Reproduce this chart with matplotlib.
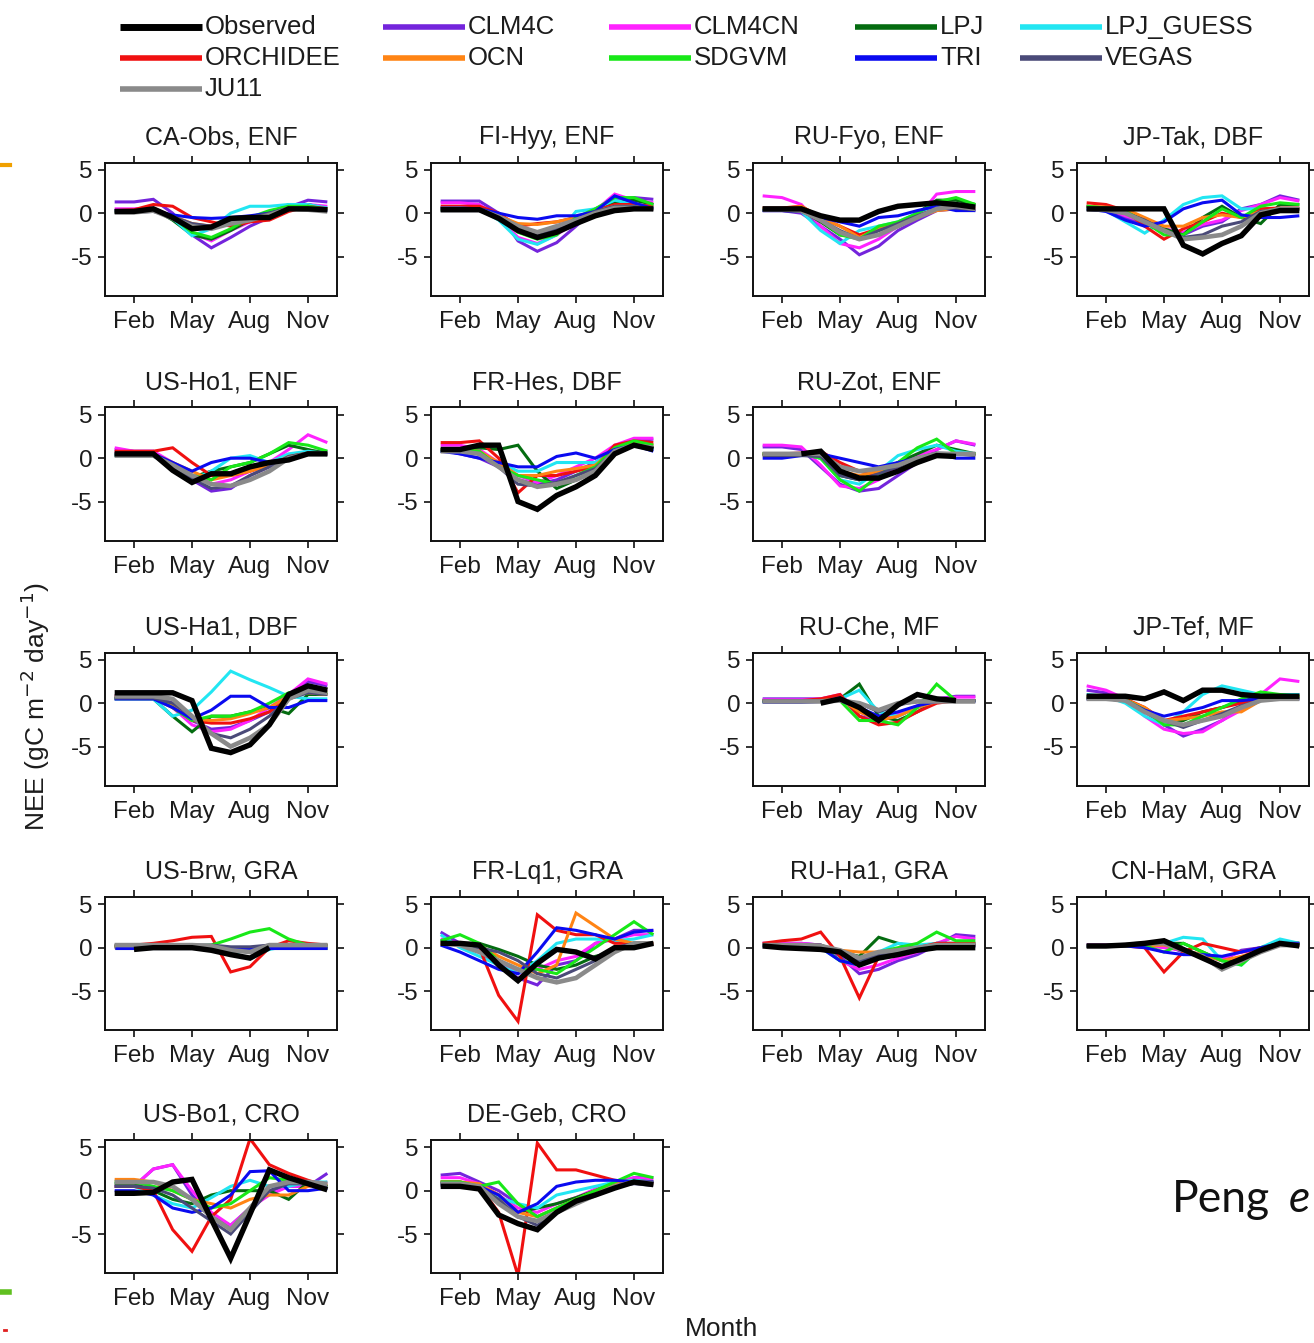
import numpy as np
import matplotlib
matplotlib.use("Agg")
import matplotlib.pyplot as plt
from matplotlib.lines import Line2D

nan = np.nan

MONTHS = list(range(1, 13))
MONTH_TICKS = [2, 5, 8, 11]
MONTH_LABELS = ["Feb", "May", "Aug", "Nov"]
Y_TICKS = [-5, 0, 5]

SERIES = ["Observed", "CLM4C", "CLM4CN", "LPJ", "LPJ_GUESS", "ORCHIDEE",
          "OCN", "SDGVM", "TRI", "VEGAS", "JU11"]

# Monthly NEE per site (gC m-2 day-1); rows follow SERIES order
CA_OBS = [
    [0.2, 0.2, 0.5, -0.5, -1.8, -1.6, -0.6, -0.5, -0.5, 0.5, 0.5, 0.4],
    [1.3, 1.3, 1.6, 0.0, -2.5, -4.0, -2.8, -1.5, -0.5, 0.7, 1.5, 1.3],
    [0.5, 0.5, 0.6, -0.4, -2.3, -3.2, -2.0, -1.0, -0.3, 0.8, 1.0, 0.8],
    [0.3, 0.3, 0.5, -0.8, -2.5, -3.0, -2.0, -0.8, 0.0, 1.0, 1.0, 0.5],
    [0.3, 0.3, 0.4, -0.6, -2.6, -1.8, 0.0, 0.8, 0.8, 1.0, 1.0, 0.6],
    [0.3, 0.4, 1.0, 0.8, -0.5, -1.0, -1.5, -1.0, -0.8, 0.2, 0.8, 0.5],
    [0.2, 0.2, 0.3, -0.3, -1.2, -1.5, -1.2, -0.8, -0.3, 0.5, 0.6, 0.4],
    [0.2, 0.2, 0.3, -0.5, -2.2, -2.8, -1.8, -0.5, 0.3, 0.8, 0.8, 0.4],
    [0.3, 0.3, 0.3, -0.2, -0.5, -0.6, -0.5, -0.3, 0.0, 0.5, 0.5, 0.3],
    [0.1, 0.1, 0.2, -0.4, -1.2, -1.5, -1.0, -0.5, 0.0, 0.6, 0.6, 0.3],
    [0.1, 0.1, 0.3, -0.6, -1.5, -1.8, -1.2, -0.8, -0.2, 0.5, 0.4, 0.2],
]

FI_HYY = [
    [0.4, 0.4, 0.4, -0.6, -2.0, -2.8, -2.2, -1.2, -0.3, 0.3, 0.5, 0.5],
    [1.4, 1.4, 1.4, 0.0, -3.2, -4.4, -3.4, -1.5, 0.5, 1.5, 1.8, 1.6],
    [1.2, 1.2, 1.0, -0.5, -2.8, -3.5, -2.5, -1.0, 0.3, 2.2, 1.5, 1.2],
    [0.5, 0.5, 0.5, -0.5, -2.0, -2.8, -2.0, -0.8, 0.3, 1.2, 1.5, 1.0],
    [0.6, 0.6, 0.5, -0.8, -3.0, -3.6, -2.5, 0.2, 0.5, 1.5, 1.0, 0.8],
    [0.8, 0.8, 0.8, 0.0, -1.5, -1.2, -1.0, -0.5, 0.3, 1.0, 1.0, 0.8],
    [0.5, 0.5, 0.5, -0.3, -1.2, -1.3, -1.0, -0.5, 0.2, 0.8, 0.8, 0.5],
    [0.4, 0.4, 0.4, -0.6, -2.2, -3.0, -2.5, -0.5, 0.5, 1.8, 1.8, 1.0],
    [0.6, 0.6, 0.5, 0.0, -0.5, -0.7, -0.3, -0.3, 0.2, 2.0, 1.2, 0.5],
    [0.3, 0.3, 0.3, -0.5, -2.0, -2.5, -1.8, -0.8, 0.2, 0.8, 0.8, 0.4],
    [0.5, 0.5, 0.4, -0.4, -1.5, -2.2, -1.5, -0.8, 0.0, 0.6, 0.6, 0.5],
]

RU_FYO = [
    [0.5, 0.5, 0.5, -0.3, -0.8, -0.8, 0.2, 0.8, 1.0, 1.2, 1.0, 0.7],
    [0.3, 0.3, 0.0, -1.5, -3.0, -4.8, -3.8, -2.0, -0.8, 0.3, 0.5, 0.3],
    [2.0, 1.8, 1.0, -1.5, -3.5, -4.0, -3.0, -1.5, -0.5, 2.2, 2.5, 2.5],
    [0.5, 0.5, 0.3, -1.0, -2.5, -2.8, -2.0, -1.2, 0.0, 1.5, 1.5, 1.0],
    [0.4, 0.4, 0.2, -2.0, -3.5, -2.0, -1.5, -1.0, 0.0, 1.0, 1.0, 0.8],
    [0.6, 0.6, 0.8, -0.5, -1.5, -2.5, -1.8, -1.2, -0.3, 0.5, 0.8, 0.6],
    [0.5, 0.5, 0.8, -0.5, -1.5, -2.8, -1.8, -1.2, -0.5, 0.3, 0.5, 0.5],
    [0.4, 0.4, 0.3, -0.8, -2.5, -3.0, -1.5, -1.0, 0.0, 1.3, 1.8, 1.0],
    [0.3, 0.3, 0.2, -0.5, -1.0, -1.5, -0.5, -0.3, 0.3, 0.8, 0.3, 0.3],
    [0.3, 0.3, 0.2, -0.8, -2.0, -3.0, -2.0, -1.2, -0.3, 0.5, 0.6, 0.4],
    [0.5, 0.5, 0.3, -0.8, -2.2, -3.0, -2.5, -1.5, -0.5, 0.5, 0.8, 0.5],
]

JP_TAK = [
    [0.5, 0.5, 0.5, 0.5, 0.5, -3.7, -4.7, -3.5, -2.6, -0.2, 0.3, 0.3],
    [0.8, 0.5, -0.5, -1.2, -2.0, -2.5, -1.5, -1.0, 0.5, 1.0, 2.0, 1.5],
    [0.8, 0.6, -0.3, -1.0, -1.8, -2.2, -1.3, -0.8, 0.3, 1.0, 1.8, 1.4],
    [0.8, 0.6, 0.2, -0.8, -1.8, -2.5, -0.5, 0.8, -0.5, -1.2, 1.0, 1.0],
    [0.5, 0.3, -1.0, -2.3, -0.8, 1.0, 1.8, 2.0, 0.5, 0.5, 0.5, 0.5],
    [1.2, 1.0, 0.3, -1.5, -3.0, -1.8, -1.0, 0.0, -0.5, 0.5, 0.6, 0.6],
    [0.8, 0.7, 0.5, -0.5, -1.5, -1.5, -0.5, -0.2, -0.5, 0.2, 0.5, 0.5],
    [0.8, 0.6, 0.2, -1.0, -2.5, -2.5, -1.0, 0.5, -0.5, 0.8, 1.2, 1.0],
    [0.5, 0.2, -0.8, -1.5, -1.0, 0.5, 1.2, 1.5, -0.2, -0.5, -0.5, -0.3],
    [0.4, 0.3, 0.0, -0.8, -2.0, -2.8, -2.5, -1.5, -1.0, 0.2, 0.5, 0.5],
    [0.5, 0.4, 0.0, -1.0, -2.0, -3.0, -2.8, -2.5, -1.5, 0.0, 0.5, 0.5],
]

US_HO1 = [
    [0.5, 0.5, 0.5, -1.4, -2.8, -1.8, -1.8, -1.0, -0.5, -0.2, 0.5, 0.5],
    [1.0, 0.8, 0.8, -1.0, -2.5, -3.8, -3.5, -2.0, -1.0, 0.3, 0.8, 0.8],
    [1.2, 0.8, 0.8, -0.5, -2.0, -3.0, -2.5, -1.5, -0.5, 1.0, 2.7, 1.8],
    [0.5, 0.5, 0.5, -0.8, -2.2, -1.5, -1.0, -0.5, 0.5, 1.5, 1.0, 0.5],
    [0.3, 0.3, 0.3, -1.0, -2.5, -1.5, 0.0, 0.3, -0.5, 0.5, 0.8, 0.5],
    [0.8, 0.8, 0.8, 1.2, -0.5, -2.0, -2.0, -1.5, -0.8, 0.0, 0.5, 0.5],
    [0.5, 0.5, 0.5, -0.5, -1.5, -2.5, -2.0, -1.5, -0.8, 0.2, 0.6, 0.5],
    [0.4, 0.4, 0.4, -0.8, -2.0, -2.5, -1.0, -0.5, 0.5, 1.8, 1.5, 0.8],
    [0.5, 0.5, 0.5, -0.5, -1.5, -0.5, 0.0, 0.0, -0.5, 0.0, 0.5, 0.5],
    [0.3, 0.3, 0.3, -1.0, -2.3, -3.5, -3.2, -2.0, -1.0, 0.2, 0.6, 0.4],
    [0.3, 0.3, 0.3, -0.8, -2.0, -3.0, -3.2, -2.5, -1.5, 0.0, 0.5, 0.5],
]

FR_HES = [
    [1.0, 1.0, 1.5, 1.5, -5.0, -5.9, -4.3, -3.3, -2.0, 0.5, 1.5, 1.0],
    [1.0, 0.5, 0.0, -1.0, -2.5, -3.0, -2.5, -1.5, -0.5, 1.0, 2.0, 2.2],
    [1.5, 1.5, 1.0, -0.5, -2.0, -2.8, -2.0, -1.0, 0.0, 1.5, 2.3, 2.3],
    [1.0, 1.0, 1.2, 1.0, 1.5, -1.5, -3.5, -2.5, -1.5, 1.0, 1.5, 1.2],
    [0.8, 0.8, 0.5, -0.5, -1.5, -1.5, -0.5, -0.5, -0.5, 1.0, 1.5, 1.0],
    [1.8, 1.8, 2.0, 0.0, -4.0, -2.0, -2.0, -1.5, -1.0, 1.5, 2.0, 1.8],
    [1.0, 1.0, 0.8, -0.5, -2.0, -2.0, -1.5, -1.2, -0.8, 1.0, 1.8, 1.5],
    [1.0, 1.0, 0.8, -1.0, -2.0, -2.5, -3.0, -2.0, -1.0, 1.2, 2.0, 1.5],
    [0.8, 0.5, 0.0, -0.5, -1.0, -1.0, 0.2, 0.6, 0.0, 1.0, 1.5, 0.8],
    [0.8, 0.8, 0.5, -1.0, -3.0, -3.2, -2.8, -2.0, -1.2, 0.8, 1.5, 1.2],
    [0.8, 0.8, 0.5, -1.0, -2.5, -3.3, -3.0, -2.5, -1.5, 0.8, 1.5, 1.2],
]

RU_ZOT = [
    [nan, nan, 0.5, 0.8, -1.5, -2.3, -2.3, -1.5, -0.5, 0.3, 0.2, nan],
    [1.3, 1.3, 1.0, -1.0, -3.0, -3.8, -3.5, -2.0, -0.5, 1.0, 2.0, 1.5],
    [1.5, 1.5, 1.3, -0.8, -3.2, -3.5, -2.5, -1.0, 0.3, 1.0, 2.0, 1.6],
    [0.5, 0.5, 0.5, 0.0, -2.0, -2.5, -1.5, -0.5, 0.5, 1.5, 1.0, 0.5],
    [0.5, 0.5, 0.5, 0.0, -2.5, -3.0, -1.5, 0.3, 1.0, 1.5, 0.8, 0.5],
    [0.5, 0.5, 0.6, 0.8, -0.5, -1.5, -2.0, -1.5, -0.5, 0.5, 0.5, 0.5],
    [0.4, 0.4, 0.4, 0.3, -1.5, -2.0, -1.5, -0.8, 0.0, 0.5, 0.5, 0.4],
    [0.5, 0.5, 0.5, 0.0, -2.5, -3.8, -2.0, -0.5, 1.2, 2.2, 0.5, 0.5],
    [0.0, 0.0, 0.3, 0.5, 0.0, -0.5, -1.0, -0.5, 0.0, 0.5, 0.0, 0.0],
    [0.3, 0.3, 0.3, 0.2, -2.0, -2.5, -1.8, -1.0, 0.0, 0.6, 0.5, 0.3],
    [0.5, 0.5, 0.5, 0.5, -1.0, -1.5, -1.2, -0.8, 0.0, 0.5, 0.5, 0.5],
]

US_HA1 = [
    [1.2, 1.2, 1.2, 1.2, 0.3, -5.2, -5.7, -4.8, -2.5, 1.0, 2.0, 1.5],
    [0.8, 0.8, 0.8, 0.0, -2.0, -3.0, -2.8, -2.0, -1.0, 1.0, 2.5, 2.0],
    [0.5, 0.5, 0.5, -0.5, -2.5, -3.3, -3.0, -2.0, -0.5, 1.0, 2.8, 2.2],
    [0.5, 0.5, 0.5, -1.5, -3.3, -1.5, -1.5, -1.0, -0.5, -1.2, 1.0, 1.0],
    [0.5, 0.5, 0.5, -1.5, -0.8, 1.3, 3.7, 2.7, 1.8, 0.8, 0.5, 0.5],
    [0.8, 0.8, 0.8, -0.5, -2.0, -2.3, -2.3, -1.8, -1.0, 0.5, 1.5, 1.3],
    [0.6, 0.6, 0.6, -0.3, -1.8, -2.0, -1.8, -1.2, -0.5, 0.8, 1.2, 1.0],
    [0.6, 0.6, 0.6, -0.5, -2.0, -1.5, -1.5, -1.0, 0.0, 1.2, 1.5, 1.2],
    [0.5, 0.5, 0.5, -0.5, -1.8, -0.8, 0.8, 0.8, -0.5, -0.5, 0.3, 0.3],
    [0.6, 0.6, 0.6, 0.0, -1.5, -3.5, -4.0, -3.0, -1.5, 0.5, 1.2, 1.0],
    [0.8, 0.8, 0.8, 0.5, -1.5, -3.5, -5.0, -4.0, -2.5, 0.5, 1.5, 1.2],
]

RU_CHE = [
    [nan, nan, nan, 0.0, 0.5, -0.5, -2.0, -0.2, 1.0, 0.5, 0.3, nan],
    [0.5, 0.5, 0.5, 0.5, 0.8, -1.5, -2.0, -1.5, -0.5, 0.5, 0.8, 0.8],
    [0.4, 0.4, 0.4, 0.5, 1.0, -1.0, -2.0, -1.2, -0.3, 0.5, 0.7, 0.7],
    [0.2, 0.2, 0.2, 0.3, 0.5, 2.2, -1.5, -2.0, -1.0, 0.3, 0.3, 0.3],
    [0.2, 0.2, 0.2, 0.3, 0.5, 1.5, -1.0, -1.5, -0.5, 0.3, 0.3, 0.3],
    [0.3, 0.3, 0.3, 0.5, 1.0, -1.5, -2.5, -2.2, -1.0, 0.0, 0.3, 0.3],
    [0.2, 0.2, 0.2, 0.3, 0.5, -1.0, -2.0, -1.5, -0.5, 0.2, 0.3, 0.3],
    [0.2, 0.2, 0.2, 0.2, 0.3, -2.0, -2.0, -2.5, -0.5, 2.2, 0.3, 0.3],
    [0.1, 0.1, 0.1, 0.2, 0.3, -0.5, -1.5, -1.0, -0.3, 0.2, 0.2, 0.2],
    [0.3, 0.3, 0.3, 0.3, 0.4, 0.0, -1.0, -0.2, 0.2, 0.3, 0.3, 0.3],
    [0.2, 0.2, 0.2, 0.2, 0.3, 0.0, -0.8, 0.0, 0.2, 0.2, 0.2, 0.2],
]

JP_TEF = [
    [0.8, 0.8, 0.8, 0.5, 1.3, 0.3, 1.5, 1.5, 1.0, 0.8, 0.8, 0.8],
    [1.5, 1.2, 0.5, -1.0, -2.5, -3.8, -3.0, -2.0, -0.5, 0.5, 1.0, 1.0],
    [2.0, 1.5, 0.5, -1.5, -3.0, -3.5, -3.3, -2.0, -0.8, 1.0, 2.8, 2.5],
    [0.8, 0.8, 0.5, -0.8, -2.5, -2.0, -1.0, -0.5, 0.2, 0.8, 0.8, 0.8],
    [1.0, 0.8, 0.0, -1.5, -2.5, -1.0, 1.0, 2.0, 1.5, 1.0, 1.0, 1.0],
    [0.8, 0.8, 0.5, -0.5, -2.0, -1.5, -1.0, -0.5, 0.0, 0.5, 0.8, 0.8],
    [0.6, 0.6, 0.4, -0.5, -2.0, -1.8, -1.5, -1.0, -1.0, 0.3, 0.6, 0.6],
    [0.6, 0.6, 0.4, -0.8, -2.5, -2.5, -1.5, -0.5, 0.5, 1.3, 1.0, 0.8],
    [0.5, 0.5, 0.3, -0.8, -1.5, -1.0, -0.5, 0.3, 0.3, 0.5, 0.5, 0.5],
    [0.5, 0.5, 0.3, -1.0, -2.0, -2.8, -2.0, -1.2, -0.3, 0.3, 0.5, 0.5],
    [0.5, 0.5, 0.3, -1.0, -2.0, -2.5, -2.0, -1.5, -0.5, 0.3, 0.5, 0.5],
]

US_BRW = [
    [nan, -0.2, 0.0, 0.0, 0.0, -0.3, -0.8, -1.2, 0.0, nan, nan, nan],
    [0.0, 0.0, 0.0, 0.0, 0.0, 0.0, -0.3, -0.5, 0.0, 0.2, 0.1, 0.0],
    [0.2, 0.2, 0.2, 0.2, 0.2, 0.2, 0.0, -0.3, 0.2, 0.3, 0.2, 0.2],
    [0.0, 0.0, 0.0, 0.0, 0.0, 0.0, 0.0, 0.0, 0.0, 0.0, 0.0, 0.0],
    [0.1, 0.1, 0.1, 0.1, 0.1, 0.2, -0.5, -1.3, -0.2, 0.2, 0.1, 0.1],
    [0.1, 0.3, 0.5, 0.8, 1.2, 1.3, -2.8, -2.2, 0.0, 0.8, 0.5, 0.3],
    [0.2, 0.2, 0.2, 0.2, 0.2, 0.2, 0.0, -0.2, 0.2, 0.2, 0.2, 0.2],
    [0.2, 0.2, 0.2, 0.2, 0.2, 0.3, 1.0, 1.8, 2.2, 1.0, 0.3, 0.3],
    [0.0, 0.0, 0.0, 0.0, 0.0, 0.0, 0.0, 0.0, 0.0, 0.0, 0.0, 0.0],
    [0.3, 0.3, 0.3, 0.3, 0.3, 0.3, 0.1, 0.1, 0.3, 0.3, 0.3, 0.3],
    [0.3, 0.3, 0.3, 0.3, 0.3, 0.2, -0.3, -0.5, 0.3, 0.3, 0.3, 0.3],
]

FR_LQ1 = [
    [0.5, 0.5, 0.3, -2.0, -3.8, -1.8, -0.2, -0.5, -1.3, 0.0, 0.0, 0.5],
    [1.8, 0.5, -0.5, -2.0, -3.5, -4.3, -2.0, -1.5, 0.5, 1.0, 2.0, 2.0],
    [1.0, 0.5, 0.0, -1.5, -3.0, -2.5, -1.5, -1.0, 0.5, 1.0, 1.5, 1.5],
    [0.8, 0.5, 0.5, -0.2, -1.0, -2.0, -2.5, -2.0, -1.0, -0.5, 0.5, 0.5],
    [1.5, 0.0, -1.0, -2.0, -3.0, -1.5, 0.5, 1.0, 1.0, 0.8, 1.0, 1.5],
    [0.5, 0.3, 0.0, -5.5, -8.5, 3.8, 2.0, 1.5, 1.5, 0.5, 0.5, 0.5],
    [0.5, 0.5, 0.3, -1.0, -2.0, -3.0, -2.0, 4.0, 2.5, 1.0, 0.5, 0.5],
    [0.8, 1.5, 0.5, -1.5, -2.5, -2.5, -3.0, -1.5, 0.0, 1.5, 3.0, 1.5],
    [0.3, -0.5, -1.5, -2.5, -3.0, -0.5, 2.3, 2.0, 1.5, 1.0, 1.8, 2.0],
    [0.5, 0.3, 0.0, -0.5, -1.5, -3.0, -3.5, -2.5, -1.5, 0.0, 0.5, 0.5],
    [0.5, 0.3, -0.5, -1.5, -2.5, -3.5, -4.0, -3.5, -2.0, -0.5, 0.5, 0.5],
]

RU_HA1 = [
    [0.2, 0.0, -0.1, -0.2, -0.5, -2.0, -1.2, -0.8, -0.3, 0.0, 0.0, 0.0],
    [0.5, 0.5, 0.5, 0.3, -1.0, -3.0, -2.5, -1.5, -0.8, 0.3, 1.5, 1.3],
    [0.5, 0.5, 0.5, 0.3, -1.5, -2.5, -2.0, -1.2, -0.5, 0.5, 1.3, 1.0],
    [0.3, 0.3, 0.3, 0.3, -0.5, -1.0, 1.2, 0.5, 0.0, 0.5, 0.5, 0.5],
    [0.3, 0.3, 0.3, 0.0, -1.5, -2.0, -0.5, 0.5, 0.3, 0.5, 0.5, 0.5],
    [0.5, 0.8, 1.0, 1.8, -1.0, -5.8, -1.0, -0.5, 0.0, 0.5, 0.5, 0.5],
    [0.3, 0.3, 0.3, 0.2, -0.3, -0.5, -0.5, -0.3, 0.0, 0.3, 0.3, 0.3],
    [0.3, 0.3, 0.3, 0.2, -1.5, -2.0, -0.5, 0.0, 0.5, 1.8, 0.8, 0.8],
    [0.2, 0.2, 0.2, 0.0, -1.5, -2.0, -0.5, -0.5, -0.3, 0.0, 0.2, 0.2],
    [0.3, 0.3, 0.3, 0.2, -0.5, -1.5, -0.8, -0.5, 0.0, 0.3, 0.3, 0.3],
    [0.3, 0.3, 0.3, 0.2, -0.3, -1.2, -0.5, -0.3, 0.0, 0.3, 0.3, 0.3],
]

CN_HAM = [
    [0.2, 0.2, 0.3, 0.5, 0.8, -0.2, -1.2, -2.2, -1.3, -0.3, 0.5, 0.2],
    [0.3, 0.3, 0.3, 0.3, 0.3, -0.5, -0.8, -1.5, -0.3, 0.0, 0.5, 0.5],
    [0.3, 0.3, 0.3, 0.2, 0.0, -0.3, -1.0, -1.2, -0.5, -0.3, 0.5, 0.5],
    [0.2, 0.2, 0.2, 0.3, 0.5, 0.5, -0.5, -1.5, -1.5, 0.0, 0.5, 0.5],
    [0.2, 0.2, 0.2, 0.3, 0.5, 1.2, 1.0, -1.5, -2.0, 0.0, 1.0, 0.5],
    [0.2, 0.2, 0.2, 0.0, -2.8, -0.5, 0.5, 0.0, -0.5, 0.0, 0.3, 0.3],
    [0.2, 0.2, 0.2, 0.2, 0.3, -0.3, -0.8, -1.5, -1.0, -0.3, 0.3, 0.3],
    [0.2, 0.2, 0.2, 0.2, -0.5, 0.5, -0.5, -1.5, -2.0, 0.0, 0.5, 0.5],
    [0.2, 0.2, 0.2, 0.0, -0.5, -0.8, -0.8, -1.0, -0.5, 0.0, 0.5, 0.5],
    [0.2, 0.2, 0.3, 0.5, 0.5, -0.3, -1.0, -2.3, -1.5, -0.5, 0.3, 0.3],
    [0.2, 0.2, 0.3, 0.5, 0.5, -0.3, -1.0, -2.5, -1.5, -0.5, 0.3, 0.3],
]

US_BO1 = [
    [-0.3, -0.3, -0.2, 1.0, 1.3, -3.3, -7.8, -2.7, 2.4, 1.5, 0.8, 0.1],
    [0.5, 0.5, 2.5, 3.0, -0.5, -3.0, -4.0, -2.0, 0.0, 0.5, 0.5, 2.0],
    [0.5, 0.5, 2.5, 3.0, 0.0, -2.5, -4.0, -2.0, -0.5, 0.5, 0.5, 1.0],
    [0.8, 0.8, 0.0, -1.0, -1.5, -0.5, 0.0, 0.0, 0.0, -1.0, 1.0, 0.5],
    [0.5, 0.5, -0.5, -1.5, -2.0, -0.8, 0.5, 1.2, 0.5, 0.5, 1.0, 1.0],
    [0.5, 0.5, 0.0, -4.5, -7.0, -3.0, -1.0, 6.0, 3.0, 2.0, 1.2, 0.5],
    [1.3, 1.3, 1.0, 0.0, -1.0, -1.5, -2.0, -1.0, -0.5, -0.5, 0.5, 0.8],
    [1.0, 1.0, 0.5, 0.0, -1.0, -2.0, -1.5, 0.0, 1.5, 1.2, 1.0, 0.5],
    [0.0, 0.0, -0.5, -2.0, -2.5, -2.0, -0.5, 2.2, 2.3, 0.0, 0.0, 0.3],
    [0.5, 0.5, 0.3, -0.5, -2.0, -3.5, -5.0, -2.5, 0.0, 0.8, 0.8, 0.5],
    [1.0, 1.0, 1.0, 0.5, -1.0, -3.0, -4.5, -2.0, 0.5, 1.0, 1.0, 0.8],
]

DE_GEB = [
    [0.5, 0.5, 0.2, -2.8, -3.8, -4.5, -2.5, -1.2, -0.5, 0.3, 1.0, 0.7],
    [1.8, 2.0, 1.0, 0.0, -1.5, -3.0, -2.0, -1.0, 0.0, 0.8, 1.5, 1.5],
    [1.5, 1.5, 0.8, -0.5, -2.0, -2.5, -1.5, -0.8, 0.2, 1.0, 1.5, 1.3],
    [1.0, 1.0, 0.5, -0.5, -2.5, -2.0, -1.5, -0.8, 0.0, 1.0, 1.2, 1.0],
    [1.0, 1.0, 0.5, -0.8, -1.5, -2.0, -0.5, 0.0, 0.5, 1.0, 1.2, 1.0],
    [1.0, 1.0, 0.5, -2.5, -9.8, 5.5, 2.4, 2.4, 1.8, 1.2, 1.0, 1.0],
    [1.0, 1.0, 0.8, -0.5, -2.5, -3.0, -2.0, -1.0, 0.0, 0.8, 1.0, 0.8],
    [1.0, 1.0, 0.5, 1.0, -1.5, -3.0, -2.0, -1.0, 0.0, 1.0, 2.0, 1.5],
    [0.8, 0.8, 0.5, -0.5, -2.5, -1.5, 0.5, 1.0, 1.2, 1.2, 1.0, 1.0],
    [0.6, 0.6, 0.4, -1.0, -3.0, -4.0, -2.5, -1.5, -0.5, 0.5, 0.8, 0.6],
    [0.8, 0.8, 0.5, -1.5, -3.0, -3.5, -2.5, -1.5, -0.5, 0.5, 1.0, 0.8],
]

# panel title, data table, grid row, grid column
PANELS = [
    ("CA-Obs, ENF", CA_OBS, 0, 0), ("FI-Hyy, ENF", FI_HYY, 0, 1),
    ("RU-Fyo, ENF", RU_FYO, 0, 2), ("JP-Tak, DBF", JP_TAK, 0, 3),
    ("US-Ho1, ENF", US_HO1, 1, 0), ("FR-Hes, DBF", FR_HES, 1, 1),
    ("RU-Zot, ENF", RU_ZOT, 1, 2),
    ("US-Ha1, DBF", US_HA1, 2, 0), ("RU-Che, MF", RU_CHE, 2, 2),
    ("JP-Tef, MF", JP_TEF, 2, 3),
    ("US-Brw, GRA", US_BRW, 3, 0), ("FR-Lq1, GRA", FR_LQ1, 3, 1),
    ("RU-Ha1, GRA", RU_HA1, 3, 2), ("CN-HaM, GRA", CN_HAM, 3, 3),
    ("US-Bo1, CRO", US_BO1, 4, 0), ("DE-Geb, CRO", DE_GEB, 4, 1),
]

COLORS = {
    "Observed": "#000000", "CLM4C": "#7424dc", "CLM4CN": "#ff22ff",
    "LPJ": "#046c10", "LPJ_GUESS": "#22e6f2", "ORCHIDEE": "#f01010",
    "OCN": "#ff8414", "SDGVM": "#18e818", "TRI": "#0a0af0",
    "VEGAS": "#4a4a78", "JU11": "#8a8a8a",
}
WIDTHS = {name: 2.2 for name in SERIES}
WIDTHS["Observed"] = 3.9
WIDTHS["JU11"] = 3.3

FONT = "Liberation Sans"
TXT = "#1c1c1c"
plt.rcParams["font.family"] = [FONT, "DejaVu Sans"]

W, H = 1314, 1343
fig = plt.figure(figsize=(W / 100, H / 100), dpi=100)
fig.patch.set_facecolor("white")


def px_rect(left, top, width, height):
    return [left / W, 1 - (top + height) / H, width / W, height / H]


COL_LEFT = [105, 431, 753, 1077]
ROW_TOP = [162.5, 407.5, 652.5, 897, 1140]
AX_W, AX_H = 232, 133

draw_order = SERIES[1:] + SERIES[:1]

for title, table, r, c in PANELS:
    ax = fig.add_axes(px_rect(COL_LEFT[c], ROW_TOP[r], AX_W, AX_H))
    for name in draw_order:
        vals = np.array(table[SERIES.index(name)], dtype=float)
        ax.plot(MONTHS, vals, color=COLORS[name], lw=WIDTHS[name],
                solid_joinstyle="miter", solid_capstyle="butt")
    ax.set_xlim(0.5, 12.5)
    ax.set_ylim(-9.5, 5.85)
    ax.set_xticks(MONTH_TICKS)
    ax.set_xticklabels(MONTH_LABELS)
    ax.set_yticks(Y_TICKS)
    ax.set_yticklabels([str(v) for v in Y_TICKS])
    ax.tick_params(axis="both", which="major", direction="out", length=5,
                   width=1.2, labelsize=17.5, colors="#111111",
                   labelcolor=TXT, top=True, right=True)
    ax.tick_params(axis="x", pad=6)
    ax.tick_params(axis="y", pad=4)
    for sp in ax.spines.values():
        sp.set_linewidth(1.4)
        sp.set_color("#111111")
    ax.set_title(title, fontsize=18, color=TXT, pad=13)

# legend laid out in five columns across the top
LEG_X = [120, 383, 609, 855, 1020]
LEG_Y = [27, 58, 89]
LEG_ROWS = [["Observed", "CLM4C", "CLM4CN", "LPJ", "LPJ_GUESS"],
            ["ORCHIDEE", "OCN", "SDGVM", "TRI", "VEGAS"],
            ["JU11"]]
for ri, row in enumerate(LEG_ROWS):
    for ci, name in enumerate(row):
        x0 = LEG_X[ci]
        y = 1 - LEG_Y[ri] / H
        lw = 5.0 if name == "Observed" else 4.0
        fig.add_artist(Line2D([x0 / W, (x0 + 82) / W], [y, y], color=COLORS[name],
                              lw=lw, transform=fig.transFigure, solid_capstyle="butt"))
        fig.text((x0 + 85) / W, y, name, fontsize=18.5, color=TXT,
                 va="center", ha="left")

fig.text(35 / W, 1 - 707 / H, r"NEE (gC m$^{-2}$ day$^{-1}$)", rotation=90,
         fontsize=19, color=TXT, ha="center", va="center")
fig.text(722 / W, 1 - 1317 / H, "Month", fontsize=19, color=TXT,
         ha="center", va="top")

# citation fragment at the right margin
fig.text(1172 / W, 1 - 1212 / H, "Peng", fontsize=32, color="#111111",
         family="Lato", ha="left", va="baseline")
fig.text(1289 / W, 1 - 1212 / H, "e", fontsize=32, color="#111111",
         family="Lato", style="italic", ha="left", va="baseline")

# small coloured marks along the left edge
for (xa, xb, yy, col, lw) in [(0, 10, 165, "#f0a000", 3.0),
                              (0, 9, 1292, "#60c020", 4.0),
                              (4, 6, 1330, "#e02020", 2.0)]:
    fig.add_artist(Line2D([xa / W, xb / W], [1 - yy / H, 1 - yy / H], color=col,
                          lw=lw, transform=fig.transFigure))

fig.savefig("out.png", dpi=100, facecolor="white")
